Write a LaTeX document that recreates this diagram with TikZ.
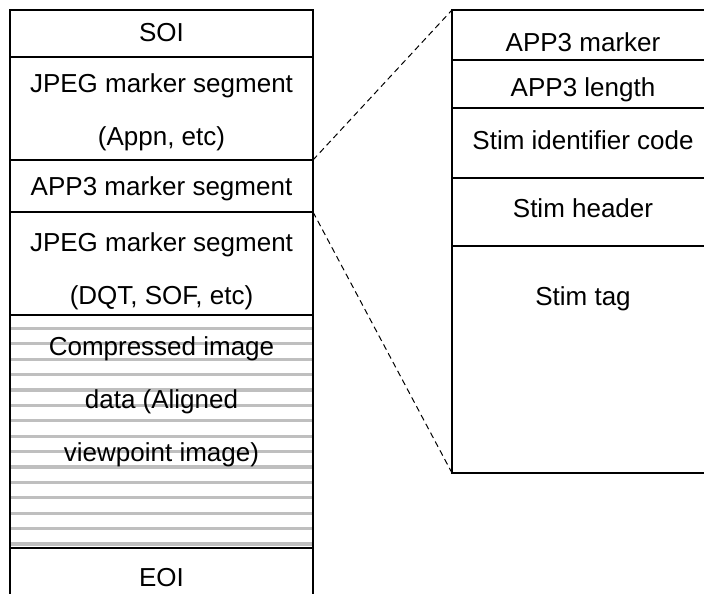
\documentclass[tikz,border=0pt]{standalone}
\usepackage{fontspec}
\setmainfont{Liberation Sans}
\usepackage{xcolor}
\usetikzlibrary{positioning, calc}

\begin{document}
\begin{tikzpicture}[
  x=1pt, y=-1pt,
  row/.style={draw, line width=1.2pt, inner sep=0pt, outer sep=0pt,
              anchor=north, minimum width=303pt},
  subrow/.style={row, minimum width=262pt},
  lbl/.style={font=\fontsize{26}{53}\selectfont, align=center, inner sep=0pt},
  stripe/.style={draw=black!25, line width=3.2pt},
  zoom/.style={dashed, dash pattern=on 6pt off 4pt, line width=1pt}
]
\clip (0,0) rectangle (704,594);
% JPEG file layout
\node[row, minimum height=47pt] (soi) at (161.5,10) {};
\node[row, minimum height=103pt, below=0pt of soi] (appn) {};
\node[row, minimum height=52pt, below=0pt of appn] (app3) {};
\node[row, minimum height=103pt, below=0pt of app3] (dqt) {};
\node[row, minimum height=233pt, below=0pt of dqt] (cid) {};
\node[row, minimum height=52pt, below=0pt of cid] (eoi) {};
% gray stripes of the image data
\foreach \k in {0,...,14}{
  \pgfmathsetmacro\yy{13.3+15.4*\k}
  \draw[stripe] ($(cid.north west)+(1,\yy)$) -- ($(cid.north east)+(-1,\yy)$);
}
\node[lbl] (tsoi) at ([yshift=-23pt]soi.north) {SOI};
\node[lbl] (tappn) at ([yshift=-55pt]appn.north)
     {JPEG marker segment\\(Appn, etc)};
\node[lbl] (tapp3) at ([yshift=-29pt]app3.north) {APP3 marker segment};
\node[lbl] (tdqt) at ([yshift=-59pt]dqt.north)
     {JPEG marker segment\\(DQT, SOF, etc)};
\node[lbl] (tcid) at ([yshift=-87pt]cid.north)
     {Compressed image\\data (Aligned\\viewpoint image)};
\node[lbl] (teoi) at ([yshift=-30pt]eoi.north) {EOI};
% APP3 segment detail
\node[subrow, minimum height=50pt] (mark) at (583,10) {};
\node[subrow, minimum height=48pt, below=0pt of mark] (len) {};
\node[subrow, minimum height=70pt, below=0pt of len] (ident) {};
\node[subrow, minimum height=68pt, below=0pt of ident] (head) {};
\node[subrow, minimum height=227pt, below=0pt of head] (tag) {};
\node[lbl] (tmark) at ([yshift=-32pt]mark.north) {APP3 marker};
\node[lbl] (tlen) at ([yshift=-30pt]len.north) {APP3 length};
\node[lbl] (tident) at ([yshift=-32pt]ident.north) {Stim identifier code};
\node[lbl] (thead) at ([yshift=-30pt]head.north) {Stim header};
\node[lbl] (ttag) at ([yshift=-53pt]tag.north) {Stim tag};
% zoom lines
\draw[zoom] (app3.north east) -- (mark.north west);
\draw[zoom] (app3.south east) -- (tag.south west);
\end{tikzpicture}
\end{document}
